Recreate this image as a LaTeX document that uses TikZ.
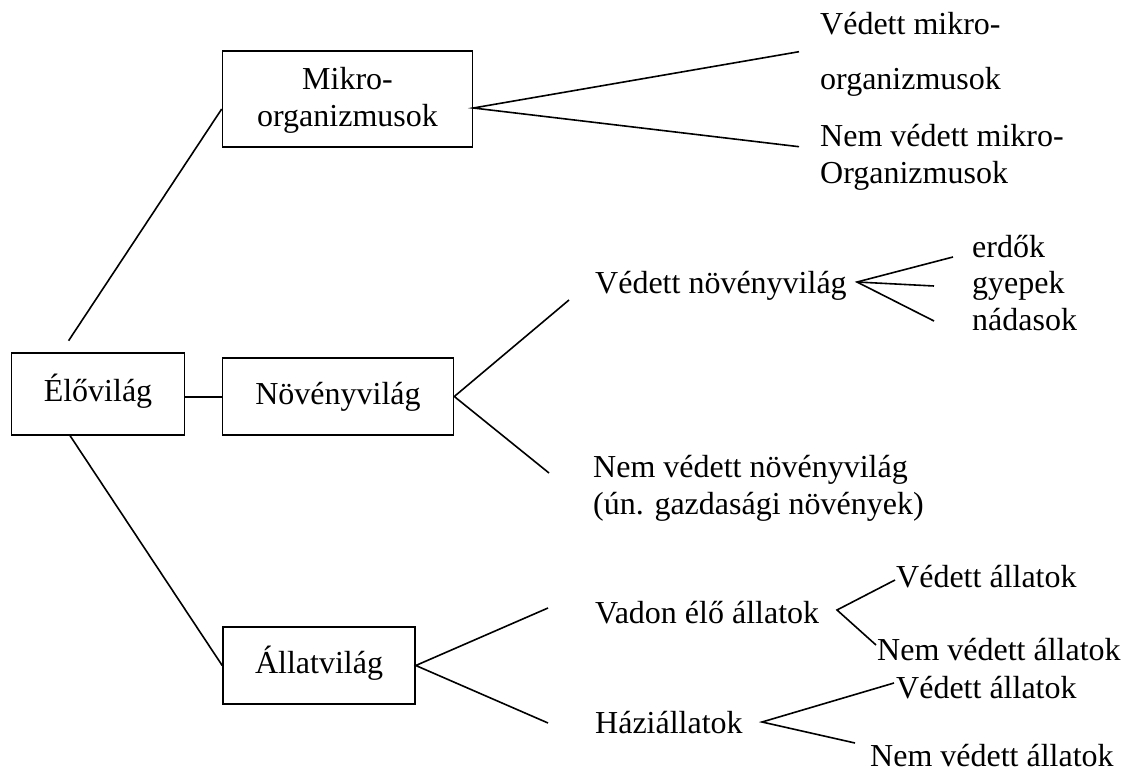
\documentclass[tikz,border=0pt]{standalone}
\usepackage{fontspec}
\setmainfont{Liberation Serif}
\begin{document}
\begin{tikzpicture}[x=1pt,y=-1pt,
  every node/.style={font=\fontsize{32}{37}\selectfont},
  boxnode/.style={draw,line width=1.6pt,inner sep=0pt,text height=22pt,text depth=7pt},
  lbl/.style={inner sep=0pt,anchor=base west},
  ctr/.style={inner sep=0pt,anchor=base},
  conn/.style={line width=1.6pt}]
\useasboundingbox (0,0) rectangle (1125,773);
\fill[white] (0,0) rectangle (1125,773);
% boxes
\node[draw,line width=1.6pt,minimum width=250pt,minimum height=96pt] (mikro) at (347.5,99) {};
\node[ctr] (mikrot1) at (347.5,90) {Mikro-};
\node[ctr] (mikrot2) at (347.5,127) {organizmusok};
\node[boxnode,minimum width=173pt,minimum height=82pt] (elo) at (98,394) {Élővilág};
\node[boxnode,minimum width=231pt,minimum height=77pt] (noveny) at (338,396.5) {Növényvilág};
\node[boxnode,minimum width=192pt,minimum height=77.5pt] (allat) at (319,665.5) {Állatvilág};
% labels
\node[lbl] (vm1) at (820,35) {Védett mikro-};
\node[lbl] (vm2) at (820,90) {organizmusok};
\node[lbl] (nvm1) at (820,147) {Nem védett mikro-};
\node[lbl] (nvm2) at (820,183) {Organizmusok};
\node[lbl] (vn) at (595,293) {Védett növényvilág};
\node[lbl] (erdok) at (972,257) {erdők};
\node[lbl] (gyepek) at (972,293) {gyepek};
\node[lbl] (nadasok) at (972,330) {nádasok};
\node[lbl] (nvn1) at (593,477) {Nem védett növényvilág};
\node[lbl] (nvn2) at (593,514) {(ún. gazdasági növények)};
\node[lbl] (vadon) at (595,623) {Vadon élő állatok};
\node[lbl] (va1) at (896,587) {Védett állatok};
\node[lbl] (nva1) at (877,660) {Nem védett állatok};
\node[lbl] (hazi) at (595,733) {Háziállatok};
\node[lbl] (va2) at (896,698) {Védett állatok};
\node[lbl] (nva2) at (870,766) {Nem védett állatok};
% connector end points
\coordinate (eloTop) at (68.6,340.7);
\coordinate (mikroIn) at (mikro.west |- 0,109);
\coordinate (mikroOut) at (mikro.east |- 0,108);
\coordinate (m1) at (799,51.7);
\coordinate (m2) at (799,146.7);
\coordinate (novOut) at (noveny.east);
\coordinate (n1) at (569,300);
\coordinate (n2) at (549,473);
\coordinate (vnApex) at (857,282);
\coordinate (f1) at (953,257);
\coordinate (f2) at (934,286);
\coordinate (f3) at (934,321);
\coordinate (eloBot) at (69.6,435);
\coordinate (allatIn) at (allat.west);
\coordinate (allatOut) at (allat.east);
\coordinate (a1) at (548,608);
\coordinate (a2) at (548,723);
\coordinate (vApex) at (837,610);
\coordinate (v1) at (895,580);
\coordinate (v2) at (876,645);
\coordinate (hApex) at (762,722);
\coordinate (h1) at (894,683);
\coordinate (h2) at (855,743);
% connectors
\draw[conn] (eloTop) -- (mikroIn);
\draw[conn] (elo.east |- 0,397) -- (noveny.west |- 0,397);
\draw[conn] (eloBot) -- (allatIn);
\draw[conn] (m1) -- (mikroOut) -- (m2);
\draw[conn] (n1) -- (novOut) -- (n2);
\draw[conn] (f1) -- (vnApex) -- (f3);
\draw[conn] (vnApex) -- (f2);
\draw[conn] (a1) -- (allatOut) -- (a2);
\draw[conn] (v1) -- (vApex) -- (v2);
\draw[conn] (h1) -- (hApex) -- (h2);
\end{tikzpicture}
\end{document}
